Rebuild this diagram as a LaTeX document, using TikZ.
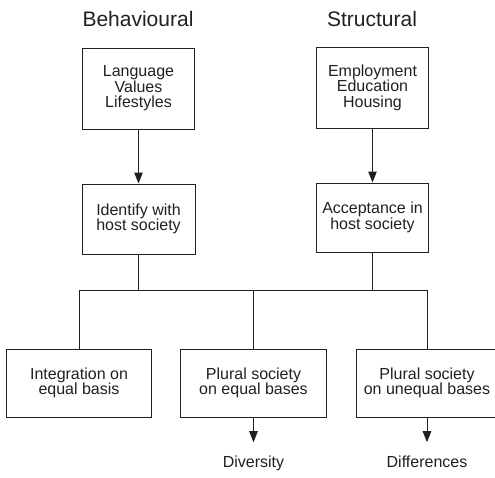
\documentclass[tikz,border=0pt]{standalone}
\usepackage{fontspec}
\setmainfont{Liberation Sans}
\usetikzlibrary{arrows.meta}
\definecolor{ink}{HTML}{231F20}
\tikzset{
  box/.style={draw=ink, line width=1pt, align=center, inner sep=0pt,
    font=\fontsize{16}{15.5}\selectfont, text=ink},
  head/.style={font=\fontsize{21}{23}\selectfont, text=ink},
  label/.style={font=\fontsize{16}{15.5}\selectfont, text=ink,
    anchor=base, inner sep=0pt},
  link/.style={draw=ink, line width=1pt},
  flow/.style={link, -{Triangle[length=11pt,width=8.5pt]}},
}
\begin{document}
\begin{tikzpicture}[x=1pt, y=-1pt]
\useasboundingbox (0,0) rectangle (495,477);
\clip (0,0) rectangle (495,477);

% column headings
\node[head] (hb) at (138, 19) {Behavioural};
\node[head] (hs) at (372, 19) {Structural};

% upper boxes
\node[box, minimum width=112pt, minimum height=81pt] (lang) at (138.5, 88.5)
  {Language\\Values\\Lifestyles};
\node[box, minimum width=112pt, minimum height=81pt] (empl) at (372.5, 87.5)
  {Employment\\Education\\Housing};

% middle boxes
\node[box, minimum width=113pt, minimum height=70pt] (ident) at (138.5, 219)
  {Identify with\\host society};
\node[box, minimum width=112pt, minimum height=69pt] (accept) at (372.5, 217.5)
  {Acceptance in\\host society};

% lower boxes
\node[box, minimum width=145pt, minimum height=68pt] (integ) at (79, 383)
  {Integration on\\equal basis};
\node[box, minimum width=146pt, minimum height=68pt] (pequal) at (253.5, 383)
  {Plural society\\on equal bases};
\node[box, minimum width=142pt, minimum height=68pt] (punequal) at (427, 383)
  {Plural society\\on unequal bases};

% outcomes (aligned on a common baseline)
\node[label] (div) at (253.5, 467) {Diversity};
\node[label] (dif) at (427, 467) {Differences};

% arrows between upper and middle boxes
\draw[flow] (lang.south) -- (ident.north);
\draw[flow] (empl.south) -- (accept.north);

% joining bus
\coordinate (bus) at (0, 290);
\draw[link] (ident.south) -- (ident.south |- bus);
\draw[link] (accept.south) -- (accept.south |- bus);
\draw[link] (integ.north |- bus) -- (punequal.north |- bus);
\draw[link] (integ.north |- bus) -- (integ.north);
\draw[link] (pequal.north |- bus) -- (pequal.north);
\draw[link] (punequal.north |- bus) -- (punequal.north);

% arrows to outcomes
\draw[flow, shorten >=13pt] (pequal.south) -- (div.north);
\draw[flow, shorten >=13pt] (punequal.south) -- (dif.north);
\end{tikzpicture}
\end{document}
